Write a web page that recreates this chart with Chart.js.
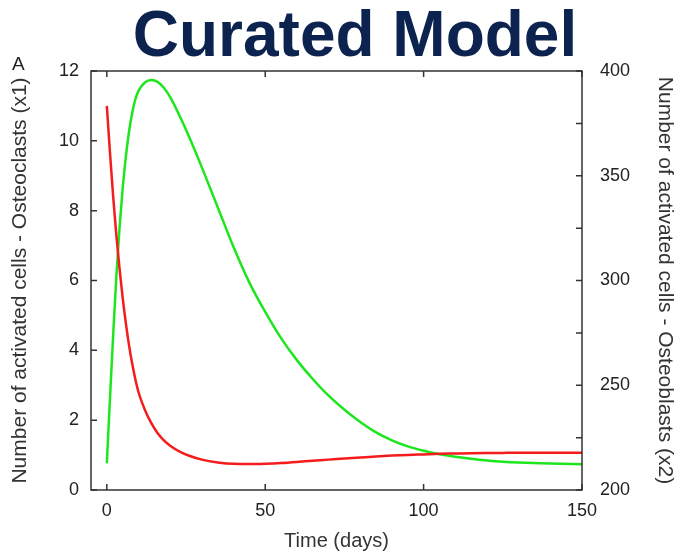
<!DOCTYPE html>
<html>
<head>
<meta charset="utf-8">
<script src="https://cdn.jsdelivr.net/npm/chart.js@4.4.1/dist/chart.umd.min.js"></script>
<style>
  html, body { margin: 0; padding: 0; background: #fff; }
  #wrap { width: 677px; height: 553px; }
</style>
</head>
<body>
<div id="wrap"><canvas id="modelChart" width="677" height="553"></canvas></div>
<script>
// simulated time points (days)
const days = [0, 1, 2, 3, 4, 5, 6, 7, 8, 9, 10, 12, 14, 16, 18, 20, 23, 26, 30, 35, 40, 45, 50,
              55, 60, 65, 70, 75, 80, 85, 90, 95, 100, 105, 110, 115, 120, 125, 130, 140, 150];

// x1 - activated osteoclasts (left axis)
const osteoclasts = [11.0, 9.65, 8.4, 7.3, 6.35, 5.5, 4.78, 4.15, 3.62, 3.17, 2.8, 2.3, 1.92, 1.63, 1.42, 1.27,
                     1.1, 0.98, 0.87, 0.79, 0.75, 0.745, 0.755, 0.775, 0.805, 0.84, 0.87, 0.9, 0.93, 0.96,
                     0.985, 1.005, 1.02, 1.035, 1.045, 1.055, 1.06, 1.063, 1.065, 1.065, 1.065];

// x2 - activated osteoblasts (right axis)
const osteoblasts = [212.7, 244, 274, 302, 325, 344, 359, 371, 380, 386.5, 390.5, 394.5, 395.7, 394.8, 392, 387.5,
                     378.5, 368.5, 354, 335, 316, 299, 285, 272.5, 262, 253, 245, 238.3, 232.5, 227.5,
                     223.7, 220.8, 218.7, 217.1, 215.9, 214.9, 214.1, 213.5, 213.1, 212.6, 212.3];

const xTicks = [0, 50, 100, 150];
const y1Ticks = [0, 2, 4, 6, 8, 10, 12];
const y2Ticks = [200, 225, 250, 275, 300, 325, 350, 375, 400];
const y2Labels = [200, 250, 300, 350, 400];

const FONT = '"Liberation Sans", Arial, Helvetica, sans-serif';

// border box + gnuplot style inward tick marks
const frameTicks = {
    id: 'frameTicks',
    afterDatasetsDraw(chart) {
        const { ctx, chartArea: a, scales } = chart;
        const len = 6;
        ctx.save();
        ctx.strokeStyle = '#333';
        ctx.lineWidth = 1.5;
        ctx.strokeRect(a.left, a.top, a.right - a.left, a.bottom - a.top);
        ctx.beginPath();
        xTicks.forEach(v => {
            const px = scales.x.getPixelForValue(v);
            ctx.moveTo(px, a.bottom); ctx.lineTo(px, a.bottom - len);
            ctx.moveTo(px, a.top); ctx.lineTo(px, a.top + len);
        });
        y1Ticks.forEach(v => {
            const py = scales.y.getPixelForValue(v);
            ctx.moveTo(a.left, py); ctx.lineTo(a.left + len, py);
        });
        y2Ticks.forEach(v => {
            const py = scales.y2.getPixelForValue(v);
            ctx.moveTo(a.right, py); ctx.lineTo(a.right - len, py);
        });
        ctx.stroke();
        ctx.restore();
    }
};

// headline and panel letter
const heading = {
    id: 'heading',
    afterDraw(chart) {
        const { ctx } = chart;
        ctx.save();
        ctx.font = 'bold 64px ' + FONT;
        ctx.fillStyle = '#0c2350';
        ctx.textAlign = 'center';
        ctx.textBaseline = 'alphabetic';
        ctx.fillText('Curated Model', 355, 56);
        ctx.font = '19px ' + FONT;
        ctx.fillStyle = '#222';
        ctx.textAlign = 'left';
        ctx.fillText('A', 12, 70);
        ctx.restore();
    }
};

const ctx = document.getElementById('modelChart').getContext('2d');

new Chart(ctx, {
    type: 'line',
    data: {
        datasets: [
            {
                label: 'x1',
                data: days.map((d, i) => ({ x: d, y: osteoclasts[i] })),
                yAxisID: 'y',
                borderColor: '#f41c1c',
                borderWidth: 2.5,
                pointRadius: 0,
                cubicInterpolationMode: 'monotone'
            },
            {
                label: 'x2',
                data: days.map((d, i) => ({ x: d, y: osteoblasts[i] })),
                yAxisID: 'y2',
                borderColor: '#1ee61e',
                borderWidth: 2.5,
                pointRadius: 0,
                cubicInterpolationMode: 'monotone'
            }
        ]
    },
    options: {
        responsive: false,
        animation: false,
        layout: { padding: { top: 71, left: 0, right: 0, bottom: 0 } },
        plugins: {
            legend: { display: false },
            tooltip: { enabled: false }
        },
        scales: {
            x: {
                type: 'linear',
                min: -5,
                max: 150,
                grid: { display: false, drawTicks: false },
                border: { display: false },
                afterBuildTicks: s => { s.ticks = xTicks.map(v => ({ value: v })); },
                afterFit: s => { s.height = 63; },
                ticks: { padding: 10, color: '#222', font: { family: FONT, size: 18 } },
                title: {
                    display: true,
                    text: 'Time (days)',
                    color: '#333',
                    padding: { top: 0, bottom: 0 },
                    font: { family: FONT, size: 20 }
                }
            },
            y: {
                position: 'left',
                min: 0,
                max: 12,
                grid: { display: false, drawTicks: false },
                border: { display: false },
                afterBuildTicks: s => { s.ticks = y1Ticks.map(v => ({ value: v })); },
                afterFit: s => { s.width = 91; },
                ticks: { padding: 12, color: '#222', font: { family: FONT, size: 18 } },
                title: {
                    display: true,
                    text: 'Number of activated cells - Osteoclasts (x1)',
                    color: '#333',
                    padding: { top: 8, bottom: 0 },
                    font: { family: FONT, size: 21 }
                }
            },
            y2: {
                position: 'right',
                min: 200,
                max: 400,
                grid: { display: false, drawTicks: false },
                border: { display: false },
                afterBuildTicks: s => { s.ticks = y2Labels.map(v => ({ value: v })); },
                afterFit: s => { s.width = 95; },
                ticks: { padding: 18, color: '#222', font: { family: FONT, size: 18 } },
                title: {
                    display: true,
                    text: 'Number of activated cells - Osteoblasts (x2)',
                    color: '#333',
                    padding: { top: 0, bottom: 0 },
                    font: { family: FONT, size: 21 }
                }
            }
        }
    },
    plugins: [frameTicks, heading]
});
</script>
</body>
</html>
